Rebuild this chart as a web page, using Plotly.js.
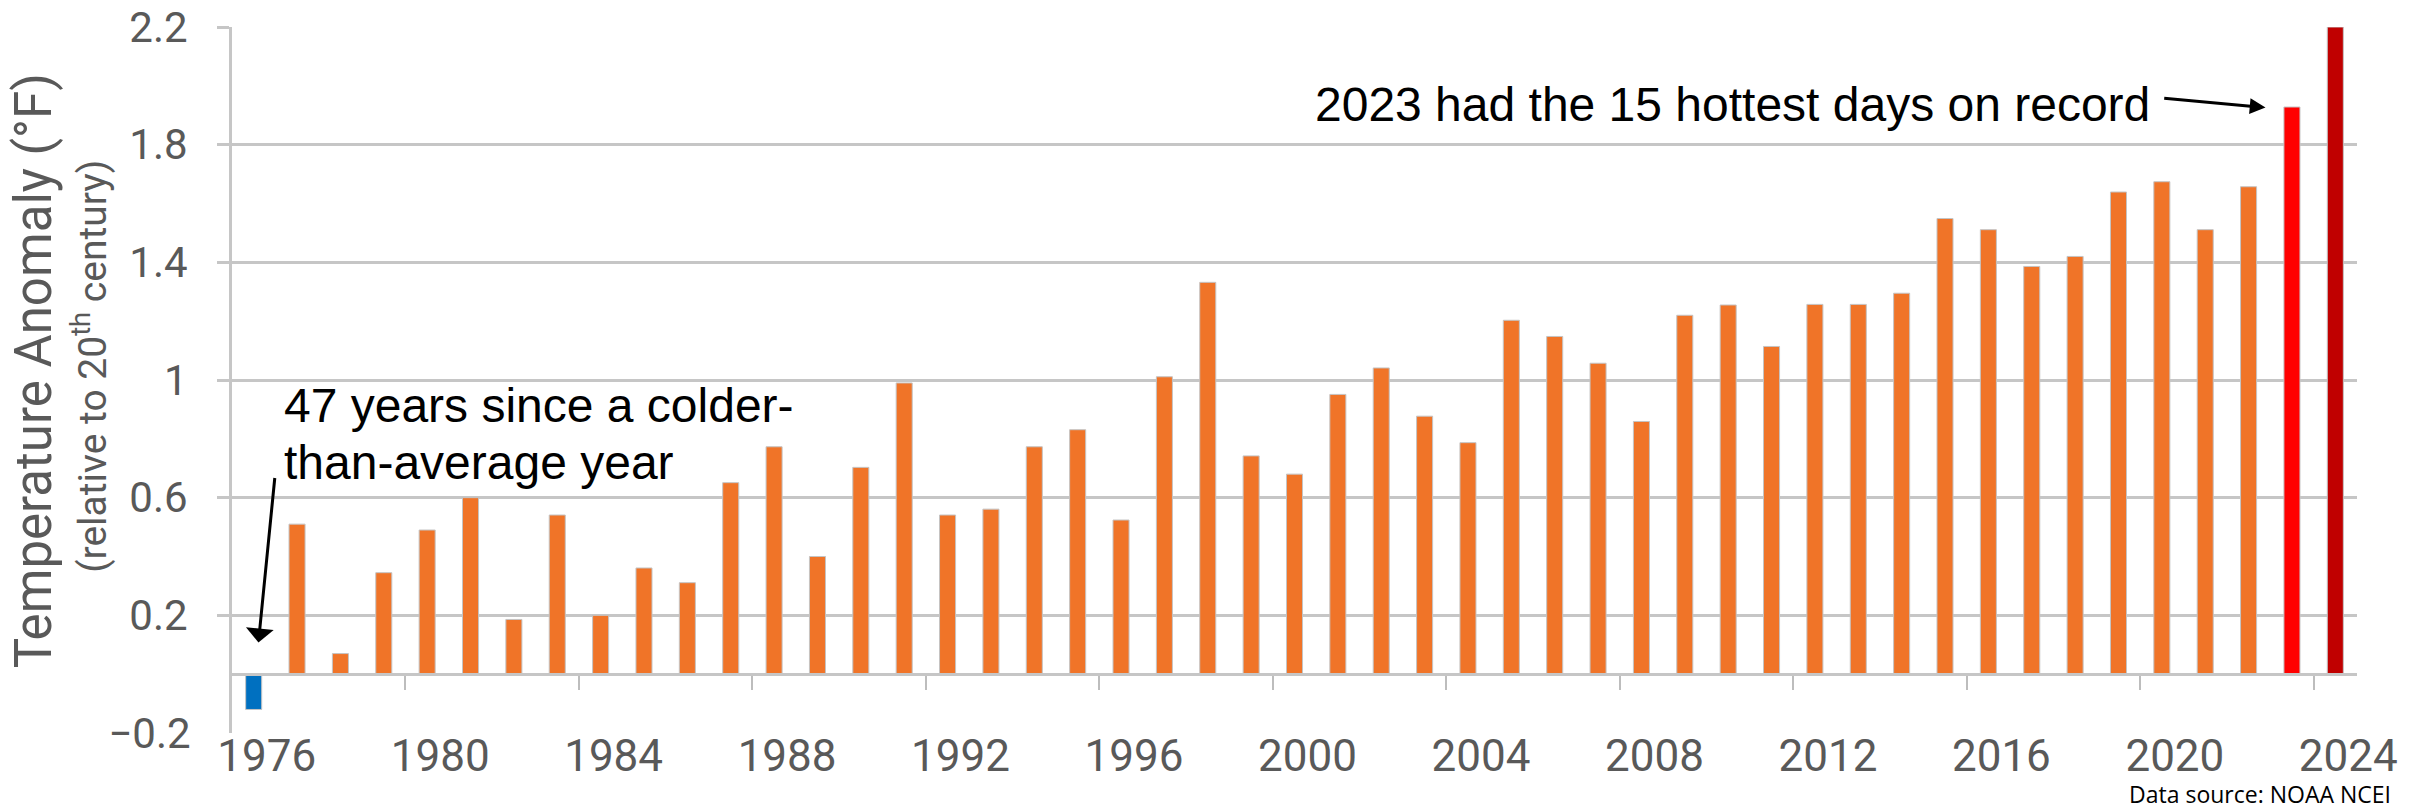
<!DOCTYPE html>
<html>
<head>
<meta charset="utf-8">
<script src="https://cdn.plot.ly/plotly-3.0.1.min.js"></script>
<style>html,body{margin:0;padding:0;background:#fff;}#chart{width:2427px;height:811px;}</style>
</head>
<body>
<div id="chart"></div>
<script>
// ---- data ----
const years = [1976,1977,1978,1979,1980,1981,1982,1983,1984,1985,1986,1987,1988,1989,1990,1991,1992,1993,1994,1995,1996,1997,1998,1999,2000,2001,2002,2003,2004,2005,2006,2007,2008,2009,2010,2011,2012,2013,2014,2015,2016,2017,2018,2019,2020,2021,2022,2023,2024];
const anomalies = [-0.12,0.51,0.07,0.345,0.49,0.60,0.186,0.541,0.20,0.361,0.311,0.651,0.773,0.40,0.703,0.99,0.541,0.561,0.773,0.831,0.524,1.011,1.332,0.742,0.68,0.951,1.041,0.877,0.787,1.203,1.148,1.057,0.859,1.22,1.255,1.114,1.257,1.257,1.295,1.549,1.511,1.386,1.42,1.639,1.674,1.511,1.657,1.928,2.2];
const xTickYears = [1976,1980,1984,1988,1992,1996,2000,2004,2008,2012,2016,2020,2024];
const xTickLabels = ['1976','1980','1984','1988','1992','1996','2000','2004','2008','2012','2016','2020','2024'];
const yTickValues = [0.2,0.6,1,1.4,1.8,2.2];
const yTickLabels = ['0.2','0.6','1','1.4','1.8','2.2'];
const yBottomValue = [-0.2];
const yBottomLabel = ['\u22120.2'];
const betweenTicks = [1979.5,1983.5,1987.5,1991.5,1995.5,1999.5,2003.5,2007.5,2011.5,2015.5,2019.5,2023.5];

// ---- styles ----
const ORANGE = '#F07428', BLUE = '#0070C0', RED = '#FF0000', DARKRED = '#C00000';
const GRID = '#c6c6c6', LABEL = '#595959';
const colors = years.map((y, i) => anomalies[i] < 0 ? BLUE : (y === 2023 ? RED : (y === 2024 ? DARKRED : ORANGE)));
const xRange = [years[0] - 0.5, years[years.length - 1] + 0.5];
const yRange = [-0.2, 2.2];

const traces = [
  {
    type: 'bar', x: years, y: anomalies,
    marker: {color: colors, line: {color: '#c4c4c4', width: 1}},
    hoverinfo: 'x+y', showlegend: false
  },
  {
    type: 'scatter', mode: 'markers', x: [years[0]], y: [-5],
    xaxis: 'x2', yaxis: 'y2', hoverinfo: 'skip', showlegend: false,
    marker: {opacity: 0}
  }
];

const tickFont = {family: 'Roboto, "Open Sans", sans-serif', size: 44, color: LABEL};
const yFont = {family: 'Roboto, "Open Sans", sans-serif', size: 42, color: LABEL};
const noteFont = {family: '"Liberation Sans", Arial, sans-serif', size: 48, color: '#000'};

const layout = {
  width: 2427, height: 811,
  margin: {l: 232, r: 70, t: 27, b: 78, pad: 0},
  paper_bgcolor: '#fff', plot_bgcolor: '#fff',
  bargap: 0.63,
  font: {family: 'Roboto, sans-serif'},
  xaxis: {
    range: xRange, tickmode: 'array', tickvals: xTickYears, ticktext: xTickLabels,
    ticks: '', showgrid: false, zeroline: false, showline: false,
    tickfont: tickFont, ticklabelshift: 13, ticklabelstandoff: -7
  },
  xaxis2: {
    overlaying: 'x', anchor: 'free', position: 0.2 / 2.4, range: xRange,
    tickmode: 'array', tickvals: betweenTicks, showticklabels: false,
    ticks: 'outside', ticklen: 14, tickwidth: 2, tickcolor: '#bdbdbd',
    showline: true, linecolor: GRID, linewidth: 3, showgrid: false, zeroline: false
  },
  yaxis: {
    range: yRange, tickmode: 'array', tickvals: yTickValues, ticktext: yTickLabels,
    showgrid: true, gridcolor: GRID, gridwidth: 3, zeroline: false,
    showline: true, linecolor: GRID, linewidth: 3,
    ticks: 'outside', ticklen: 12, tickwidth: 3, tickcolor: GRID,
    tickfont: yFont, ticklabelstandoff: 21
  },
  yaxis2: {
    overlaying: 'y', anchor: 'free', position: 0, side: 'left', range: yRange,
    tickmode: 'array', tickvals: yBottomValue, ticktext: yBottomLabel,
    showgrid: false, zeroline: false, showline: false,
    ticks: 'outside', ticklen: 12, tickwidth: 3, tickcolor: 'rgba(0,0,0,0)',
    tickfont: yFont, ticklabelstandoff: 21
  },
  annotations: [
    {xref: 'paper', yref: 'paper', x: -0.0935, y: 0.5127, text: 'Temperature Anomaly (°F)',
     textangle: -90, showarrow: false, xanchor: 'center', yanchor: 'middle',
     font: {family: 'Roboto, sans-serif', size: 51, color: LABEL}},
    {xref: 'paper', yref: 'paper', x: -0.0664, y: 0.52, text: '(relative to 20<sup>th</sup> century)',
     textangle: -90, showarrow: false, xanchor: 'center', yanchor: 'middle',
     font: {family: 'Roboto, sans-serif', size: 39, color: LABEL}},
    {xref: 'x', yref: 'y', x: 1976.66, y: 0.912, text: '47 years since a colder-',
     showarrow: false, xanchor: 'left', yanchor: 'middle', font: noteFont},
    {xref: 'x', yref: 'y', x: 1976.66, y: 0.720, text: 'than-average year',
     showarrow: false, xanchor: 'left', yanchor: 'middle', font: noteFont},
    {xref: 'x', yref: 'y', x: 1976.11, y: 0.108, axref: 'x', ayref: 'y', ax: 1976.49, ay: 0.672,
     text: '', showarrow: true, arrowhead: 1, arrowsize: 1.55, arrowwidth: 3, arrowcolor: '#000'},
    {xref: 'x', yref: 'y', x: 2000.42, y: 1.937, text: '2023 had the 15 hottest days on record',
     showarrow: false, xanchor: 'left', yanchor: 'middle', font: noteFont},
    {xref: 'x', yref: 'y', x: 2022.39, y: 1.926, axref: 'x', ayref: 'y', ax: 2020.02, ay: 1.958,
     text: '', showarrow: true, arrowhead: 2, arrowsize: 1.05, arrowwidth: 3, arrowcolor: '#000'},
    {xref: 'paper', yref: 'paper', x: 1.0163, y: -0.1105, text: 'Data source: NOAA NCEI',
     showarrow: false, xanchor: 'right', yanchor: 'bottom', borderpad: 0,
     font: {family: '"Open Sans", Roboto, sans-serif', size: 23, color: '#000', weight: 400}}
  ]
};

Plotly.newPlot('chart', traces, layout, {displayModeBar: false, staticPlot: true});
</script>
</body>
</html>
